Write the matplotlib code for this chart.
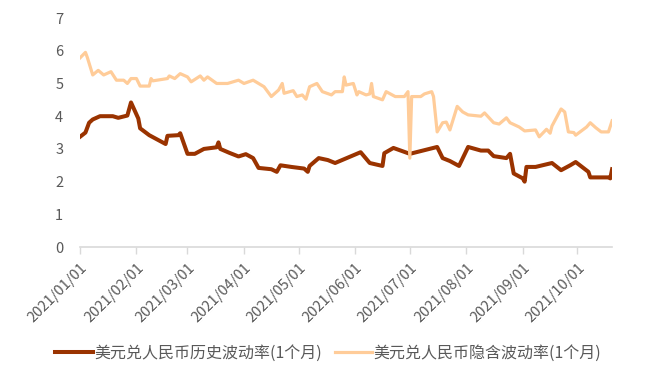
import matplotlib
matplotlib.use("Agg")
import matplotlib.pyplot as plt
import matplotlib.dates as mdates
import pandas as pd

plt.rcParams['font.family'] = ['Noto Sans CJK SC', 'DejaVu Sans']

# 美元兑人民币历史波动率(1个月)
hist_dates = ["2021-01-01", "2021-01-04", "2021-01-06", "2021-01-08", "2021-01-12", "2021-01-19",
              "2021-01-22", "2021-01-27", "2021-01-29", "2021-02-02", "2021-02-03", "2021-02-08",
              "2021-02-12", "2021-02-17", "2021-02-18", "2021-02-24", "2021-02-25", "2021-03-01",
              "2021-03-05", "2021-03-10", "2021-03-17", "2021-03-18", "2021-03-19", "2021-03-24",
              "2021-03-29", "2021-04-02", "2021-04-06", "2021-04-09", "2021-04-16", "2021-04-19",
              "2021-04-21", "2021-04-27", "2021-05-04", "2021-05-06", "2021-05-07", "2021-05-12",
              "2021-05-17", "2021-05-21", "2021-06-04", "2021-06-09", "2021-06-16", "2021-06-17",
              "2021-06-22", "2021-07-01", "2021-07-16", "2021-07-19", "2021-07-23", "2021-07-28",
              "2021-08-02", "2021-08-09", "2021-08-13", "2021-08-16", "2021-08-23", "2021-08-25",
              "2021-08-27", "2021-09-01", "2021-09-02", "2021-09-03", "2021-09-08", "2021-09-17",
              "2021-09-22", "2021-09-27", "2021-09-30", "2021-10-07", "2021-10-08", "2021-10-18",
              "2021-10-19", "2021-10-20"]
hist_vals = [3.37, 3.5, 3.8, 3.9, 4.0, 4.0,
             3.95, 4.02, 4.42, 3.93, 3.63, 3.42,
             3.3, 3.15, 3.4, 3.42, 3.48, 2.85,
             2.85, 3.0, 3.05, 3.2, 3.0, 2.88,
             2.77, 2.84, 2.72, 2.42, 2.38, 2.3,
             2.5, 2.45, 2.4, 2.3, 2.48, 2.72,
             2.66, 2.57, 2.9, 2.57, 2.48, 2.87,
             3.03, 2.85, 3.06, 2.72, 2.63, 2.48,
             3.06, 2.95, 2.95, 2.78, 2.72, 2.85,
             2.25, 2.1, 2.0, 2.45, 2.45, 2.57,
             2.35, 2.5, 2.6, 2.3, 2.13, 2.13,
             2.1, 2.38]

# 美元兑人民币隐含波动率(1个月)
impl_dates = ["2021-01-01", "2021-01-04", "2021-01-05", "2021-01-08", "2021-01-11", "2021-01-14",
              "2021-01-18", "2021-01-21", "2021-01-25", "2021-01-27", "2021-01-29", "2021-02-01",
              "2021-02-03", "2021-02-08", "2021-02-09", "2021-02-10", "2021-02-18", "2021-02-19",
              "2021-02-22", "2021-02-25", "2021-03-01", "2021-03-03", "2021-03-08", "2021-03-10",
              "2021-03-12", "2021-03-17", "2021-03-23", "2021-03-29", "2021-04-01", "2021-04-06",
              "2021-04-12", "2021-04-16", "2021-04-20", "2021-04-22", "2021-04-23", "2021-04-28",
              "2021-04-30", "2021-05-03", "2021-05-05", "2021-05-07", "2021-05-11", "2021-05-14",
              "2021-05-19", "2021-05-21", "2021-05-25", "2021-05-26", "2021-05-27", "2021-05-31",
              "2021-06-02", "2021-06-03", "2021-06-07", "2021-06-09", "2021-06-10", "2021-06-11",
              "2021-06-16", "2021-06-18", "2021-06-23", "2021-06-28", "2021-06-30", "2021-07-01",
              "2021-07-02", "2021-07-07", "2021-07-09", "2021-07-13", "2021-07-14", "2021-07-16",
              "2021-07-19", "2021-07-21", "2021-07-23", "2021-07-27", "2021-07-30", "2021-08-02",
              "2021-08-09", "2021-08-11", "2021-08-16", "2021-08-19", "2021-08-23", "2021-08-25",
              "2021-08-30", "2021-09-02", "2021-09-08", "2021-09-10", "2021-09-14", "2021-09-16",
              "2021-09-17", "2021-09-22", "2021-09-24", "2021-09-26", "2021-09-29", "2021-09-30",
              "2021-10-06", "2021-10-08", "2021-10-11", "2021-10-14", "2021-10-18", "2021-10-20"]
impl_vals = [5.78, 5.95, 5.8, 5.26, 5.4, 5.26,
             5.36, 5.1, 5.1, 5.0, 5.15, 5.15,
             4.92, 4.92, 5.15, 5.08, 5.15, 5.23,
             5.15, 5.3, 5.2, 5.05, 5.23, 5.1,
             5.2, 5.0, 5.0, 5.1, 5.0, 5.1,
             4.9, 4.6, 4.8, 5.0, 4.7, 4.78,
             4.6, 4.65, 4.52, 4.9, 5.0, 4.75,
             4.65, 4.75, 4.75, 5.2, 4.95, 5.0,
             4.65, 4.75, 4.65, 4.68, 5.0, 4.6,
             4.5, 4.75, 4.6, 4.6, 4.75, 2.72,
             4.6, 4.6, 4.68, 4.75, 4.6, 3.52,
             3.8, 3.82, 3.58, 4.3, 4.13, 4.04,
             4.0, 4.1, 3.8, 3.76, 3.95, 3.8,
             3.67, 3.55, 3.58, 3.37, 3.6, 3.48,
             3.7, 4.22, 4.13, 3.52, 3.5, 3.42,
             3.67, 3.8, 3.65, 3.52, 3.52, 3.86]

month_ticks = pd.date_range("2021-01-01", "2021-10-01", freq="MS")

hist = pd.Series(hist_vals, index=pd.to_datetime(hist_dates))
impl = pd.Series(impl_vals, index=pd.to_datetime(impl_dates))

fig = plt.figure(figsize=(6.45, 3.75), dpi=100)
ax = fig.add_axes([0.124, 0.341, 0.825, 0.611])

ax.plot(hist.index, hist.values, color="#9a3300", lw=2.9, solid_joinstyle="round",
        label="美元兑人民币历史波动率(1个月)")
ax.plot(impl.index, impl.values, color="#ffcc99", lw=2.3, solid_joinstyle="round",
        label="美元兑人民币隐含波动率(1个月)")

ax.set_ylim(0, 7)
ax.set_xlim(pd.Timestamp("2021-01-01"), pd.Timestamp("2021-10-20"))
ax.set_xticks(month_ticks)
ax.xaxis.set_major_formatter(mdates.DateFormatter("%Y/%m/%d"))

for s in ["top", "right", "left"]:
    ax.spines[s].set_visible(False)
ax.spines["bottom"].set_color("#d9d9d9")
ax.spines["bottom"].set_linewidth(1.2)

ax.tick_params(axis="x", colors="#d9d9d9", length=5, width=1.0, pad=5,
               labelcolor="#595959", labelsize=10.5)
ax.tick_params(axis="y", length=0, labelcolor="#595959", labelsize=10.5, pad=12)
for lab in ax.get_xticklabels():
    lab.set_rotation(45)
    lab.set_ha("right")
    lab.set_va("top")
    lab.set_rotation_mode("anchor")

fig.legend(loc="center", bbox_to_anchor=(0.509, 0.059), ncol=2, frameon=False,
           fontsize=11.5, labelcolor="#595959", handlelength=2.35, handletextpad=0.1,
           columnspacing=0.8, borderpad=0)

fig.savefig("out.png", dpi=100)
